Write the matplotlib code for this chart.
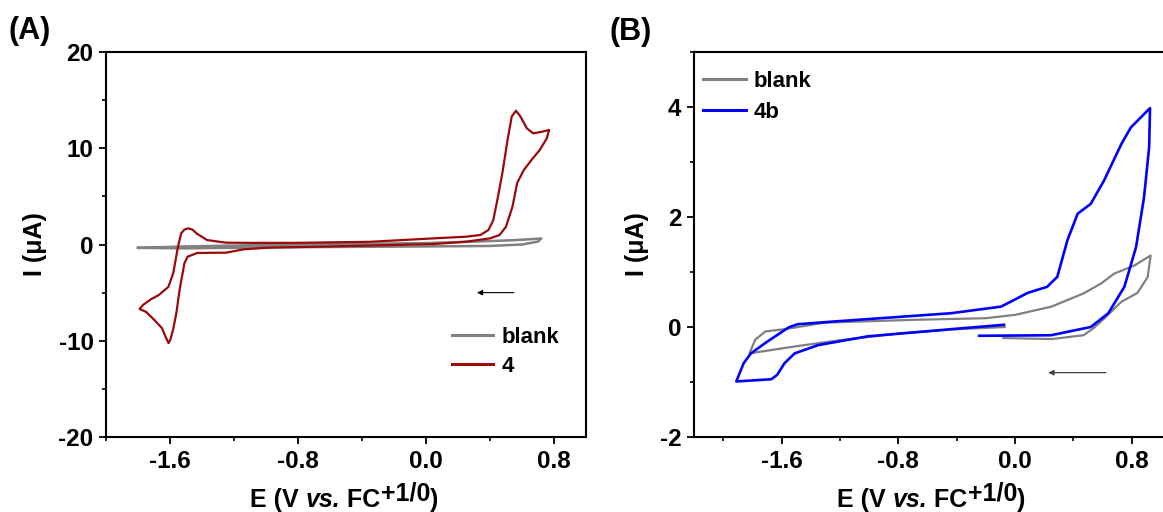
import matplotlib.pyplot as plt
from matplotlib.ticker import MultipleLocator

plt.rcParams['font.family'] = ['Liberation Sans', 'DejaVu Sans']
plt.rcParams['font.weight'] = 'bold'

# ---- panel A: blank and compound 4 ----
a_blank_E = [-1.80, -1.5, -1.0, -0.5, 0.0, 0.3, 0.55, 0.72,
             0.70, 0.60, 0.40, 0.0, -0.5, -1.0, -1.5, -1.80]
a_blank_I = [-0.35, -0.2, -0.05, 0.05, 0.15, 0.3, 0.45, 0.62,
             0.3, 0.0, -0.15, -0.2, -0.25, -0.3, -0.4, -0.35]

a_4_E = [0.05, -0.2, -0.6, -0.99, -1.14, -1.25, -1.33, -1.43, -1.49, -1.51, -1.54,
         -1.56, -1.58, -1.598, -1.609, -1.63, -1.65, -1.70, -1.75, -1.79,
         -1.77, -1.72, -1.67, -1.61, -1.58, -1.55, -1.53, -1.51, -1.486, -1.46,
         -1.43, -1.40, -1.37, -1.30, -1.25, -1.1, -0.82, -0.35, 0.05, 0.25,
         0.34, 0.39, 0.42, 0.45, 0.48, 0.51, 0.536, 0.5625, 0.59, 0.63, 0.67,
         0.72, 0.77,
         0.754, 0.71, 0.66, 0.61, 0.57, 0.54, 0.50, 0.46, 0.40, 0.25, 0.05]
a_4_I = [0.05, -0.05, -0.2, -0.33, -0.5, -0.85, -0.86, -0.88, -1.27, -1.95, -4.7,
         -7.1, -8.8, -9.9, -10.24, -9.5, -8.7, -7.8, -7.0, -6.7,
         -6.3, -5.7, -5.25, -4.4, -3.0, -0.23, 1.16, 1.55, 1.68, 1.55,
         1.1, 0.8, 0.47, 0.3, 0.19, 0.17, 0.17, 0.28, 0.64, 0.81,
         0.99, 1.5, 2.5, 4.97, 7.7, 10.9, 13.3, 13.9, 13.3, 12.07, 11.55,
         11.7, 11.9,
         11.0, 9.8, 8.8, 7.7, 6.4, 3.9, 1.85, 0.99, 0.64, 0.29, 0.05]

# ---- panel B: blank and compound 4b ----
b_blank_E = [-0.07, -0.4, -0.8, -1.2, -1.5, -1.82,
             -1.78, -1.71, -1.58, -1.3, -0.7, -0.2, 0.0, 0.25, 0.47, 0.59, 0.68,
             0.82, 0.93,
             0.91, 0.84, 0.73, 0.61, 0.54, 0.47, 0.25, -0.08]
b_blank_I = [0.0, -0.04, -0.12, -0.24, -0.35, -0.48,
             -0.23, -0.08, -0.04, 0.08, 0.13, 0.16, 0.22, 0.37, 0.61, 0.79, 0.97,
             1.12, 1.30,
             0.91, 0.62, 0.46, 0.15, -0.02, -0.15, -0.22, -0.20]

b_4b_E = [-0.075, -0.44, -1.01, -1.35, -1.51, -1.58, -1.63, -1.67, -1.91,
          -1.86, -1.81, -1.70, -1.55, -1.49, -1.24, -0.44, -0.096, -0.007,
          0.087, 0.22, 0.29, 0.36, 0.43, 0.52, 0.61, 0.73, 0.795, 0.926,
          0.92, 0.885, 0.83, 0.75, 0.64, 0.52, 0.247, -0.245]
b_4b_I = [0.04, -0.04, -0.17, -0.33, -0.48, -0.66, -0.87, -0.95, -0.99,
          -0.66, -0.48, -0.27, -0.005, 0.05, 0.10, 0.25, 0.37, 0.49,
          0.62, 0.73, 0.91, 1.58, 2.06, 2.24, 2.66, 3.33, 3.63, 3.98,
          3.27, 2.36, 1.45, 0.73, 0.25, 0.0, -0.15, -0.16]

# scan direction arrows (start E, end E, I)
a_arrow = [0.567, 0.301, -5.0]
b_arrow = [0.643, 0.209, -0.83]

fig = plt.figure(figsize=(11.63, 5.12), dpi=100)
axA = fig.add_axes([106/1163, 1-437/512, 480/1163, 385/512])
axB = fig.add_axes([694/1163, 1-437/512, 496/1163, 385/512])

grey = '#808080'
axA.plot(a_blank_E, a_blank_I, color=grey, lw=1.8, label='blank')
axA.plot(a_4_E, a_4_I, color='#9B0A0A', lw=1.6, label='4')
axB.plot(b_blank_E, b_blank_I, color=grey, lw=1.6, label='blank')
axB.plot(b_4b_E, b_4b_I, color='#0000FF', lw=1.9, label='4b')

axA.set_xlim(-2.0, 1.0)
axA.set_ylim(-20, 20)
axA.xaxis.set_minor_locator(MultipleLocator(0.4))
axA.yaxis.set_minor_locator(MultipleLocator(5))
axA.set_xticks([-1.6, -0.8, 0.0, 0.8])
axA.set_xticklabels(['-1.6', '-0.8', '0.0', '0.8'])
axA.set_yticks([-20, -10, 0, 10, 20])
axA.set_yticklabels(['-20', '-10', '0', '10', '20'])

axB.set_xlim(-2.2, 1.2)
axB.set_ylim(-2, 5)
axB.xaxis.set_minor_locator(MultipleLocator(0.4))
axB.yaxis.set_minor_locator(MultipleLocator(1))
axB.set_xticks([-1.6, -0.8, 0.0, 0.8])
axB.set_xticklabels(['-1.6', '-0.8', '0.0', '0.8'])
axB.set_yticks([-2, 0, 2, 4])
axB.set_yticklabels(['-2', '0', '2', '4'])

for ax in (axA, axB):
    for s in ax.spines.values():
        s.set_linewidth(1.5)
    ax.tick_params(which='major', direction='out', length=5, width=1.3,
                   labelsize=17.5, pad=4)
    ax.tick_params(which='minor', direction='out', length=3, width=1.2)
    ax.set_ylabel('I (μA)', fontsize=18, fontweight='bold')

axA.yaxis.set_label_coords(-0.123, 0.5)
axB.yaxis.set_label_coords(-0.09, 0.5)

axA.annotate('', xy=(a_arrow[1], a_arrow[2]), xytext=(a_arrow[0], a_arrow[2]),
             arrowprops=dict(arrowstyle='-|>', color='black', lw=0.8,
                             mutation_scale=8))
axB.annotate('', xy=(b_arrow[1], b_arrow[2]), xytext=(b_arrow[0], b_arrow[2]),
             arrowprops=dict(arrowstyle='-|>', color='#444444', lw=0.9,
                             mutation_scale=8))

legA = axA.legend(loc='upper left', bbox_to_anchor=(0.72, 0.285), frameon=False,
                  fontsize=16, handlelength=1.86, handletextpad=0.4,
                  labelspacing=0.35, borderpad=0, borderaxespad=0)
legB = axB.legend(loc='upper left', bbox_to_anchor=(0.018, 0.95), frameon=False,
                  fontsize=16, handlelength=1.93, handletextpad=0.35,
                  labelspacing=0.42, borderpad=0, borderaxespad=0)
for leg in (legA, legB):
    for ln in leg.get_lines():
        ln.set_linewidth(2.2)

# panel letters
fig.text(8/1163, 1-39/512, '(A)', fontsize=22, fontweight='bold', va='baseline')
fig.text(610/1163, 1-40/512, '(B)', fontsize=22, fontweight='bold', va='baseline')


# x-axis label built from pieces so that the superscript keeps full size
def xlabel(x0, y0):
    t = fig.text(x0, y0, 'E (V ', fontsize=18, fontweight='bold', va='baseline')
    pieces = [('vs.', 'italic', 0), (' FC', 'normal', 0), ('+1/0', 'normal', 5),
              (')', 'normal', -5)]
    for txt, style, dy in pieces:
        t = fig.axes[0].annotate(txt, xy=(1, 0), xycoords=t, xytext=(0, dy),
                                 textcoords='offset points', fontsize=18,
                                 fontweight='bold', fontstyle=style,
                                 va='bottom', ha='left', annotation_clip=False)


xlabel(250/1163, 1-507/512)
xlabel(837/1163, 1-507/512)

fig.savefig('out.png', dpi=100)
